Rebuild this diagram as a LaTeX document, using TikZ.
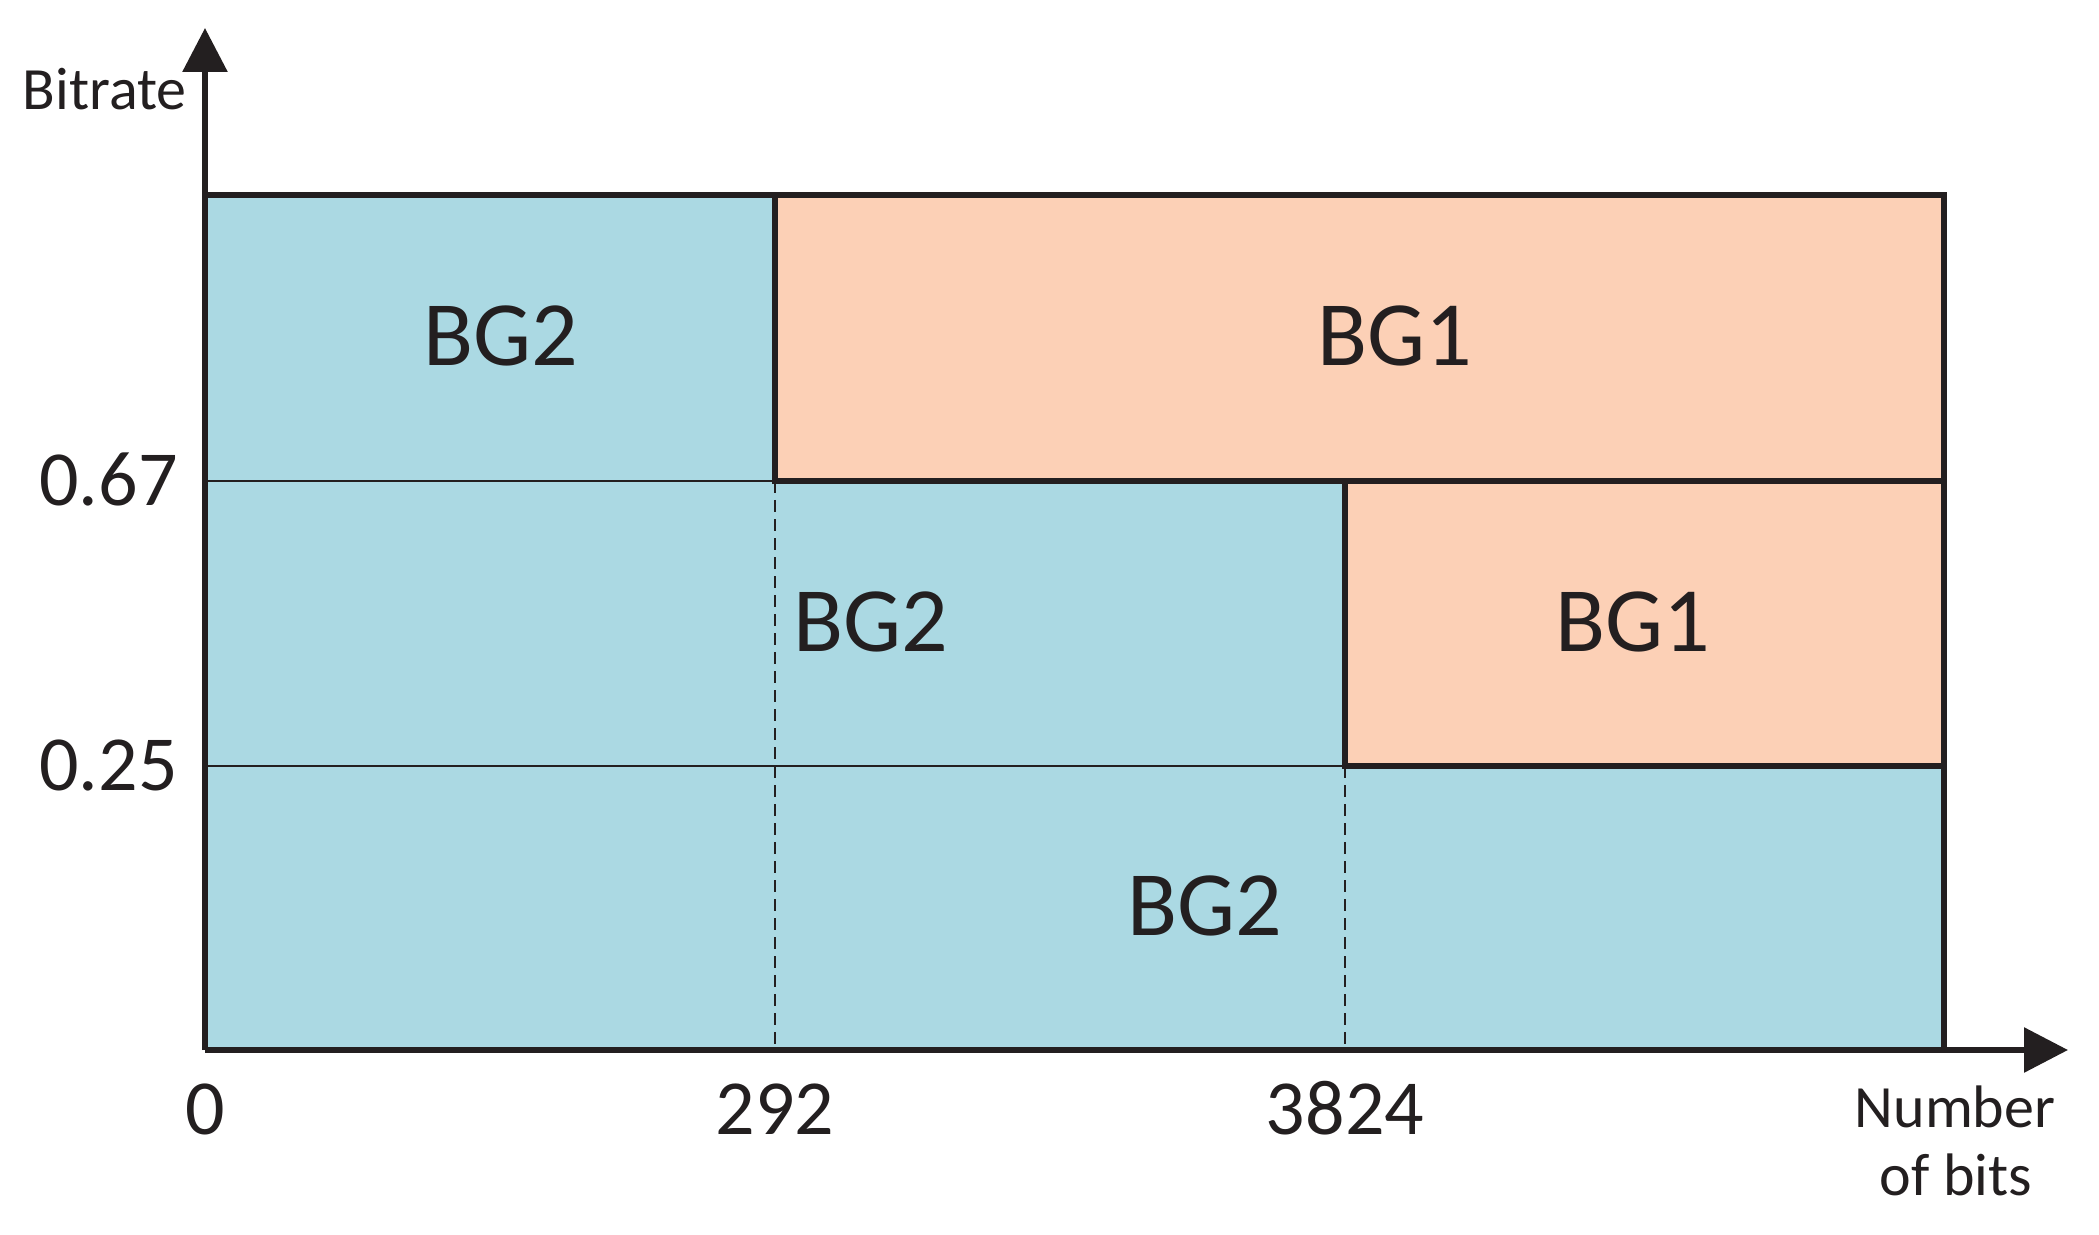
\documentclass[tikz,border=0pt]{standalone}
\usepackage{fontspec}
\setmainfont{Carlito}
\usetikzlibrary{arrows.meta}
\definecolor{bgblue}{RGB}{171,217,227}
\definecolor{bgorange}{RGB}{252,208,182}
\definecolor{ink}{RGB}{35,31,32}
\tikzset{
  thick line/.style={draw=ink, line width=3pt, line join=miter},
  thin line/.style={draw=ink, line width=0.75pt},
  dash line/.style={draw=ink, line width=0.75pt, dash pattern=on 6pt off 3.5pt},
  axis arrow/.style={draw=ink, line width=3pt, -{Triangle[length=22pt,width=22pt]}},
  bglabel/.style={text=ink, font=\fontsize{46}{50}\selectfont, inner sep=0pt},
  ticklabel/.style={text=ink, font=\fontsize{39}{44}\selectfont, inner sep=0pt},
  axislabel/.style={text=ink, font=\fontsize{30}{34}\selectfont, inner sep=0pt}
}
\begin{document}
\begin{tikzpicture}[x=0.5pt, y=-0.5pt]
\useasboundingbox (0,0) rectangle (2099,1235);
% corner coordinates
\coordinate (O) at (205,1050);
\coordinate (TL) at (205,195);
\coordinate (TR) at (1944,195);
\coordinate (BR) at (1944,1050);
\coordinate (A1) at (205,481);
\coordinate (A2) at (775,481);
\coordinate (A3) at (1944,481);
\coordinate (B1) at (205,766);
\coordinate (B2) at (1345,766);
\coordinate (B3) at (1944,766);
\coordinate (C1) at (775,195);
\coordinate (C2) at (775,1050);
\coordinate (D1) at (1345,481);
\coordinate (D2) at (1345,1050);
\coordinate (Ytip) at (205,28);
\coordinate (Xtip) at (2068,1050);
% fills
\fill[bgblue] (TL) rectangle (BR);
\fill[bgorange] (C1) rectangle (A3);
\fill[bgorange] (D1) rectangle (B3);
% thin grid lines
\draw[thin line] (A1) -- (A2);
\draw[thin line] (B1) -- (B2);
\draw[dash line] (A2) -- (C2);
\draw[dash line] (B2) -- (D2);
% thick outlines
\draw[thick line] (C1) -- (A2) -- (A3);
\draw[thick line] (D1) -- (B2) -- (B3);
\draw[thick line] (TL) -- (TR) -- (BR);
% axes
\draw[axis arrow] (O) -- (Ytip);
\draw[axis arrow] (O) -- (Xtip);
% region labels
\node[bglabel] (bg2a) at (501,336) {BG2};
\node[bglabel] (bg1a) at (1395,336) {BG1};
\node[bglabel] (bg2b) at (871,622) {BG2};
\node[bglabel] (bg1b) at (1633,622) {BG1};
\node[bglabel] (bg2c) at (1205,906) {BG2};
% tick labels
\node[ticklabel, anchor=base east] (y067) at (178,505) {0.67};
\node[ticklabel, anchor=base east] (y025) at (178,790) {0.25};
\node[ticklabel, anchor=base] (x0) at (205,1134) {0};
\node[ticklabel, anchor=base] (x292) at (775,1134) {292};
\node[ticklabel, anchor=base] (x3824) at (1345,1134) {3824};
% axis labels
\node[axislabel, anchor=base east] (ylab) at (187,110) {Bitrate};
\node[axislabel, anchor=base] (xlab1) at (1955,1127) {Number};
\node[axislabel, anchor=base] (xlab2) at (1956,1195) {of bits};
\end{tikzpicture}
\end{document}
